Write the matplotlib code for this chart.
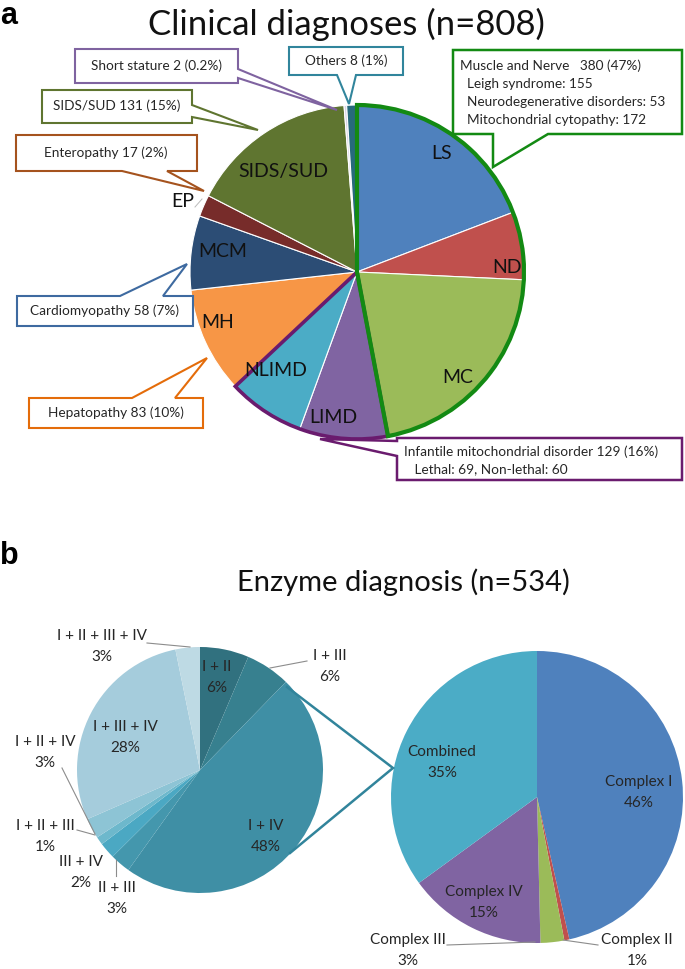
import matplotlib
matplotlib.use("Agg")
import matplotlib.pyplot as plt
from matplotlib.patches import Polygon, Wedge

plt.rcParams['font.family'] = ['Lato', 'DejaVu Sans']

W, H = 685, 969

# ---- data: clinical diagnoses (n=808), clockwise from 12 o'clock
clin_labels = ["LS", "ND", "MC", "LIMD", "NLIMD", "MH", "MCM", "EP", "SIDS/SUD", "SS", "Others"]
clin_counts = [155, 53, 172, 69, 60, 83, 58, 17, 131, 2, 8]
clin_colors = ["#4F81BD", "#C0504D", "#9BBB59", "#8064A2", "#4BACC6", "#F79646",
               "#2C4D75", "#772C2A", "#5F7530", "#D9D2E6", "#276A7C"]

# ---- data: enzyme diagnosis (n=534)
enz_labels = ["Complex I", "Complex II", "Complex III", "Complex IV", "Combined"]
enz_counts = [248, 3, 14, 82, 187]
enz_colors = ["#4F81BD", "#C0504D", "#9BBB59", "#8064A2", "#4BACC6"]

comb_labels = ["I + II", "I + III", "I + IV", "II + III", "III + IV",
               "I + II + III", "I + II + IV", "I + III + IV", "I + II + III + IV"]
comb_counts = [12, 11, 89, 5, 4, 2, 5, 53, 6]
comb_colors = ["#31717F", "#37808F", "#3F8FA5", "#4497AD", "#4BA8C3",
               "#6DB8CC", "#8DC4D5", "#A5CCDC", "#BEDAE4"]

fig = plt.figure(figsize=(W / 100, H / 100), dpi=100)
ax = fig.add_axes([0, 0, 1, 1])

def Y(y):
    return H - y

TXT = "#262626"

# ---------------- panel a ----------------
c1 = (357, Y(272)); r1 = 167
ax.pie(clin_counts, colors=clin_colors, startangle=90, counterclock=False,
       center=c1, radius=r1, wedgeprops=dict(edgecolor="white", linewidth=0.8))

tot = sum(clin_counts)
mn = sum(clin_counts[:3])
imd = sum(clin_counts[3:5])
ax.add_patch(Wedge(c1, r1, 90 - 360 * mn / tot, 90, fill=False,
                   edgecolor="#138A13", linewidth=3, zorder=5))
ax.add_patch(Wedge(c1, r1, 90 - 360 * (mn + imd) / tot, 90 - 360 * mn / tot, fill=False,
                   edgecolor="#6A1B6E", linewidth=2.6, zorder=4))

# labels inside the slices
inner = {"LS": (442, 153), "ND": (507, 267), "MC": (458, 377), "LIMD": (333, 417),
         "NLIMD": (276, 370), "MH": (218, 322), "MCM": (223, 251), "SIDS/SUD": (283, 171),
         "EP": (183, 201)}
for lab, (x, y) in inner.items():
    ax.text(x, Y(y), lab, fontsize=14, ha="center", va="center", color="#111111", zorder=6)
ax.plot([195, 202], [Y(207), Y(199)], color="#BBBBBB", lw=0.7, zorder=6)


def callout(box, side, b1, b2, tip, color, lw=1.5):
    x0, y0, x1, y1 = box
    if side == "bottom":
        pts = [(x0, y0), (x1, y0), (x1, y1), (b2, y1), tip, (b1, y1), (x0, y1)]
    elif side == "top":
        pts = [(x0, y0), (b1, y0), tip, (b2, y0), (x1, y0), (x1, y1), (x0, y1)]
    elif side == "right":
        pts = [(x0, y0), (x1, y0), (x1, b1), tip, (x1, b2), (x1, y1), (x0, y1)]
    else:
        pts = [(x0, y0), (x1, y0), (x1, y1), (x0, y1), (x0, b2), tip, (x0, b1)]
    pts = [(px, Y(py)) for px, py in pts]
    ax.add_patch(Polygon(pts, closed=True, facecolor="white", edgecolor=color,
                         linewidth=lw, joinstyle="miter", zorder=7))


fs_c = 9.8
callout((75, 49, 238, 83), "right", 69, 78, (337, 110), "#7F63A0")
ax.text(157, Y(66), "Short stature 2 (0.2%)", fontsize=fs_c, ha="center", va="center", color=TXT, zorder=8)

callout((289, 47, 403, 75), "bottom", 337, 356, (349, 104), "#31859C")
ax.text(346, Y(61), "Others 8 (1%)", fontsize=fs_c, ha="center", va="center", color=TXT, zorder=8)

callout((42, 90, 192, 123), "right", 105, 117, (258, 130), "#5F7530")
ax.text(117, Y(106), "SIDS/SUD 131 (15%)", fontsize=fs_c, ha="center", va="center", color=TXT, zorder=8)

callout((16, 135, 197, 171), "bottom", 122, 167, (204, 191), "#A5531E")
ax.text(106, Y(153), "Enteropathy 17 (2%)", fontsize=fs_c, ha="center", va="center", color=TXT, zorder=8)

callout((17, 296, 193, 326), "top", 120, 163, (187, 264), "#3E6AA0")
ax.text(105, Y(311), "Cardiomyopathy 58 (7%)", fontsize=fs_c, ha="center", va="center", color=TXT, zorder=8)

callout((29, 398, 203, 428), "top", 132, 175, (207, 358), "#E46C0A")
ax.text(116, Y(413), "Hepatopathy 83 (10%)", fontsize=fs_c, ha="center", va="center", color=TXT, zorder=8)

callout((453, 50, 682, 134), "bottom", 493, 548, (493, 167), "#138A13", lw=1.8)
mn_lines = ["Muscle and Nerve   %d (47%%)" % mn,
            "  Leigh syndrome: %d" % clin_counts[0],
            "  Neurodegenerative disorders: %d" % clin_counts[1],
            "  Mitochondrial cytopathy: %d" % clin_counts[2]]
for i, s in enumerate(mn_lines):
    ax.text(460, Y(66 + 18 * i), s, fontsize=fs_c, ha="left", va="center", color=TXT, zorder=8)

callout((397, 438, 682, 480), "left", 441, 456, (320, 439), "#6A1B6E", lw=1.8)
ax.text(404, Y(452), "Infantile mitochondrial disorder %d (16%%)" % imd, fontsize=fs_c,
        ha="left", va="center", color=TXT, zorder=8)
ax.text(404, Y(469), "   Lethal: %d, Non-lethal: %d" % (clin_counts[3], clin_counts[4]),
        fontsize=fs_c, ha="left", va="center", color=TXT, zorder=8)

ax.text(346, Y(24), "Clinical diagnoses (n=%d)" % tot, fontsize=25, ha="center", va="center", color="#111111")
ax.text(0, Y(16), "a", fontsize=22, fontweight="bold", family="Liberation Sans",
        ha="left", va="center", color="black")

# ---------------- panel b ----------------
c2 = (200, Y(770)); r2 = 123
ax.pie(comb_counts, colors=comb_colors, startangle=90, counterclock=False,
       center=c2, radius=r2, wedgeprops=dict(edgecolor="none"))
c3 = (537, Y(797)); r3 = 146
ax.pie(enz_counts, colors=enz_colors, startangle=90, counterclock=False,
       center=c3, radius=r3, wedgeprops=dict(edgecolor="none"))

# zoom connector lines
ax.plot([287, 393, 290], [Y(687), Y(768), Y(853)], color="#31849B", lw=1.8,
        solid_joinstyle="miter", zorder=3)

ct = sum(comb_counts)
et = sum(enz_counts)
comb_pct = ["%d%%" % round(100 * v / ct) for v in comb_counts]
enz_pct = ["%d%%" % round(100 * v / et) for v in enz_counts]

fs_e = 11
comb_pos = [(217, 667), (330, 656), (266, 826), (117, 888), (81, 862),
            (45, 826), (45, 742), (125, 727), (102, 636)]
for lab, pct, (x, y) in zip(comb_labels, comb_pct, comb_pos):
    ax.text(x, Y(y), lab, fontsize=fs_e, ha="center", va="center", color=TXT, zorder=6)
    ax.text(x, Y(y + 21), pct, fontsize=fs_e, ha="center", va="center", color=TXT, zorder=6)

enz_pos = [(639, 782), (637, 940), (408, 940), (484, 892), (442, 752)]
for lab, pct, (x, y) in zip(enz_labels, enz_pct, enz_pos):
    ax.text(x, Y(y), lab, fontsize=fs_e, ha="center", va="center", color=TXT, zorder=6)
    ax.text(x, Y(y + 21), pct, fontsize=fs_e, ha="center", va="center", color=TXT, zorder=6)

# leader lines
leaders = [[(147, 643), (190, 647)], [(307, 661), (270, 668)],
           [(62, 768), (95, 834)], [(77, 830), (95, 835)], [(116, 876), (116, 860)],
           [(447, 945), (535, 942)], [(598, 945), (563, 940)]]
for seg in leaders:
    ax.plot([p[0] for p in seg], [Y(p[1]) for p in seg], color="#8C8C8C", lw=0.8, zorder=6)

ax.text(403, Y(582), "Enzyme diagnosis (n=%d)" % et, fontsize=21, ha="center", va="center", color="#111111")
ax.text(0, Y(556), "b", fontsize=22, fontweight="bold", family="Liberation Sans",
        ha="left", va="center", color="black")

ax.set_xlim(0, W)
ax.set_ylim(0, H)
ax.set_aspect("auto")
ax.axis("off")
fig.savefig("out.png", dpi=100, facecolor="white")
